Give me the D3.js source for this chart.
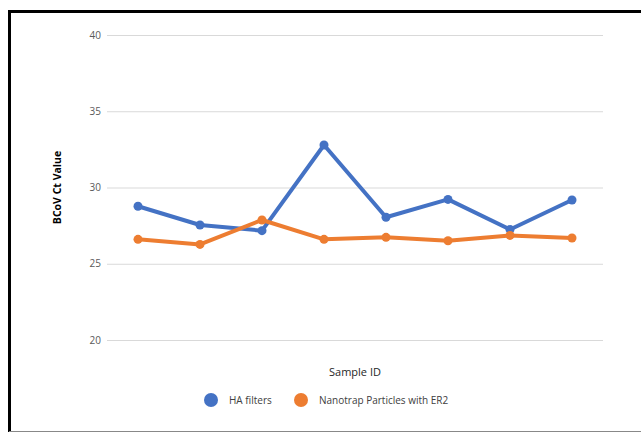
<!DOCTYPE html>
<html>
<head>
<meta charset="utf-8">
<script src="https://cdn.jsdelivr.net/npm/d3@7"></script>
<style>
  body { margin: 0; background: #fff; }
  svg { display: block; }
</style>
</head>
<body>
<div class="chart"></div>
<script>
// data
const samples = ['1', '2', '3', '4', '5', '6', '7', '8']
const haFilters = [28.77, 27.54, 27.17, 32.79, 28.05, 29.22, 27.25, 29.18]
const nanotrap = [26.6, 26.27, 27.87, 26.6, 26.73, 26.51, 26.86, 26.69]
const yTicks = [20, 25, 30, 35, 40]
const seriesNames = ['HA filters', 'Nanotrap Particles with ER2']
const colors = ['#4472C4', '#ED7D31']

const W = 641, H = 432
const margin = {top: 35, right: 38, bottom: 92, left: 107}
const width = W - margin.left - margin.right,
      height = H - margin.top - margin.bottom

const svg = d3.select('.chart').append('svg')
    .attr('width', W)
    .attr('height', H)

// frame round the chart
svg.append('path')
    .attr('d', 'M9.5,' + H + ' V11.5 H' + W)
    .attr('fill', 'none')
    .attr('stroke', '#000')
    .attr('stroke-width', 3)
svg.append('line')
    .attr('x1', 9).attr('x2', W)
    .attr('y1', 431.5).attr('y2', 431.5)
    .attr('stroke', '#888').attr('stroke-width', 1)

const g = svg.append('g')
    .attr('transform', 'translate(' + margin.left + ',' + margin.top + ')')

const x = d3.scaleBand().domain(samples).range([0, width])
const y = d3.scaleLinear().domain([20, 40]).range([height, 0])

// y axis with gridlines
const yAxis = g.append('g')
    .call(d3.axisLeft(y).tickValues(yTicks).tickSize(-width).tickPadding(6))
yAxis.select('.domain').remove()
yAxis.selectAll('.tick line').attr('stroke', '#d9d9d9').attr('stroke-width', 1.2)
yAxis.selectAll('.tick text')
    .attr('fill', '#595959')
    .attr('font-family', 'Open Sans, sans-serif')
    .attr('font-size', 10)

const line = d3.line()
    .x((d, i) => x(samples[i]) + x.bandwidth() / 2)
    .y(d => y(d))

const series = [haFilters, nanotrap]
series.forEach((values, k) => {
    g.append('path')
        .datum(values)
        .attr('fill', 'none')
        .attr('stroke', colors[k])
        .attr('stroke-width', 4)
        .attr('stroke-linejoin', 'round')
        .attr('d', line)
    g.selectAll('.dot' + k)
        .data(values)
        .enter()
        .append('circle')
        .attr('class', 'dot' + k)
        .attr('r', 4.5)
        .attr('fill', colors[k])
        .attr('cx', (d, i) => x(samples[i]) + x.bandwidth() / 2)
        .attr('cy', d => y(d))
})

// axis titles
svg.append('text')
    .attr('transform', 'translate(61,' + (margin.top + height / 2) + ') rotate(-90)')
    .attr('text-anchor', 'middle')
    .attr('font-family', 'Open Sans, sans-serif')
    .attr('font-size', 10.5)
    .attr('font-weight', 'bold')
    .attr('fill', '#000')
    .text('BCoV Ct Value')

svg.append('text')
    .attr('x', 355)
    .attr('y', 376)
    .attr('text-anchor', 'middle')
    .attr('font-family', 'Open Sans, sans-serif')
    .attr('font-size', 11)
    .attr('fill', '#262626')
    .text('Sample ID')

// legend
const legendX = [211, 301]
seriesNames.forEach((name, k) => {
    svg.append('circle')
        .attr('cx', legendX[k])
        .attr('cy', 400)
        .attr('r', 7)
        .attr('fill', colors[k])
    svg.append('text')
        .attr('x', legendX[k] + 18)
        .attr('y', 404)
        .attr('font-family', 'Open Sans, sans-serif')
        .attr('font-size', 10)
        .attr('fill', '#404040')
        .text(name)
})
</script>
</body>
</html>
